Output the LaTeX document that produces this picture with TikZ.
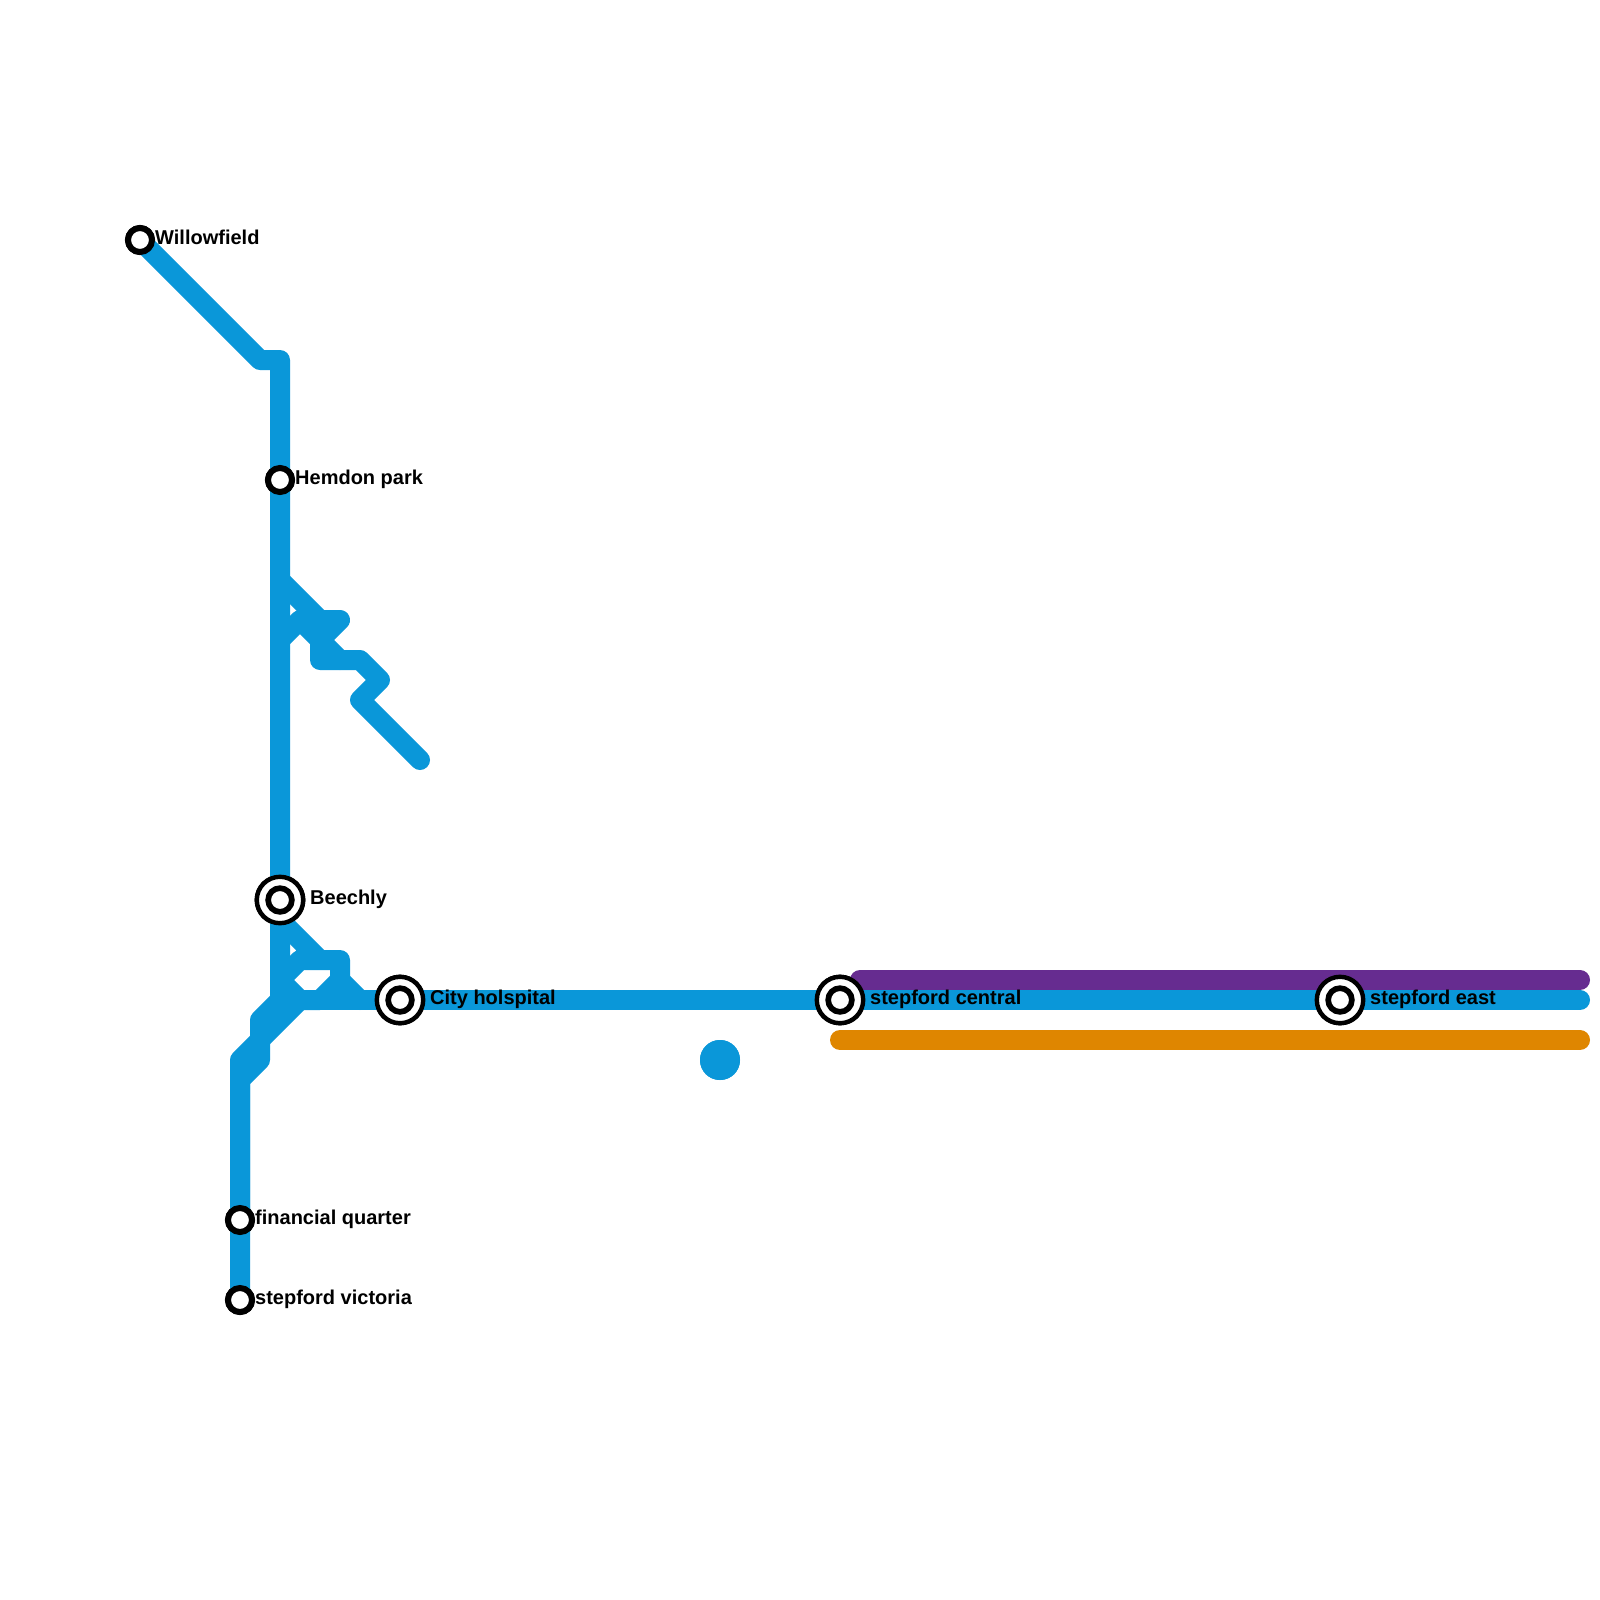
\documentclass[tikz,border=0pt]{standalone}
\usepackage{fontspec}
\setmainfont{Liberation Sans}
\tikzset{
  tube/.style={line width=20pt,line cap=round,line join=round,color=lineblue},
  smallstop/.style={circle,draw=black,fill=white,line width=6pt,minimum size=24pt,inner sep=0pt},
  bigstop/.style={circle,draw=black,fill=white,line width=4.4pt,minimum size=46.4pt,inner sep=0pt},
  innerstop/.style={circle,draw=black,fill=white,line width=5.7pt,minimum size=23.7pt,inner sep=0pt},
  lbl/.style={anchor=base west,inner sep=0pt,font=\fontsize{20pt}{24pt}\selectfont\bfseries,text=black}
}
\definecolor{lineblue}{HTML}{0A97D9}
\definecolor{linepurple}{HTML}{662C90}
\definecolor{lineorange}{HTML}{DF8600}
\begin{document}
\begin{tikzpicture}[x=1pt,y=-1pt]
\useasboundingbox[fill=white] (0,0) rectangle (1600,1600);
% junction coordinates
\coordinate (a1) at (260,360); \coordinate (a2) at (280,360);
\coordinate (b0) at (280,580); \coordinate (b1) at (320,620); \coordinate (b2) at (340,620);
\coordinate (b3) at (320,640); \coordinate (b4) at (320,660); \coordinate (b5) at (360,660);
\coordinate (b6) at (380,680); \coordinate (b7) at (360,700); \coordinate (b8) at (420,760);
\coordinate (b9) at (280,640); \coordinate (b10) at (300,620); \coordinate (b11) at (340,660);
\coordinate (c0) at (280,920); \coordinate (c1) at (320,960); \coordinate (c2) at (340,960);
\coordinate (c3) at (340,980); \coordinate (c4) at (360,1000); \coordinate (c5) at (300,960);
\coordinate (c6) at (280,980); \coordinate (c7) at (300,1000); \coordinate (c8) at (320,1000);
\coordinate (d0) at (280,1000); \coordinate (d1) at (260,1020); \coordinate (d2) at (260,1060);
\coordinate (d3) at (240,1080); \coordinate (d4) at (240,1060);
\coordinate (e1) at (1580,1000);
\coordinate (p0) at (860,980); \coordinate (p1) at (1580,980);
\coordinate (o0) at (840,1040); \coordinate (o1) at (1580,1040);
% stations
\path (140,240) node[smallstop] (will) {}
      (280,480) node[smallstop] (hem) {}
      (280,900) node[bigstop] (bee) {}
      (400,1000) node[bigstop] (city) {}
      (840,1000) node[bigstop] (cen) {}
      (1340,1000) node[bigstop] (east) {}
      (240,1220) node[smallstop] (fin) {}
      (240,1300) node[smallstop] (vic) {};
% lines
\draw[tube,linepurple] (p0) -- (p1);
\draw[tube,lineorange] (o0) -- (o1);
\draw[tube] (will.center) -- (a1) -- (a2) -- (hem.center) -- (bee.center) -- (d0) -- (d1) -- (d2) -- (d3) -- (vic.center);
\draw[tube] (b0) -- (b1) -- (b2) -- (b3) -- (b4) -- (b5) -- (b6) -- (b7) -- (b8);
\draw[tube] (b9) -- (b10) -- (b11);
\draw[tube] (c0) -- (c1) -- (c2) -- (c3) -- (c8) -- (c7) -- (c6) -- (c5) -- (c1);
\draw[tube] (c3) -- (c4);
\draw[tube] (c7) -- (d4) -- (fin.center);
\draw[tube] (c7) -- (city.center) -- (cen.center) -- (east.center) -- (e1);
\fill[lineblue] (720,1060) circle (20pt);
\node[circle,fill=lineblue,minimum size=40pt,inner sep=0pt] (dot) at (720,1060) {};
% station symbols on top
\foreach \n/\x/\y/\s in {will/140/240/smallstop,hem/280/480/smallstop,fin/240/1220/smallstop,vic/240/1300/smallstop,bee/280/900/bigstop,city/400/1000/bigstop,cen/840/1000/bigstop,east/1340/1000/bigstop}{
  \node[\s] at (\x,\y) {};
}
\node[innerstop] (beei) at (bee) {};
\node[innerstop] (cityi) at (city) {};
\node[innerstop] (ceni) at (cen) {};
\node[innerstop] (easti) at (east) {};
% labels
\node[lbl] (lwill) at (155,244) {Willowfield};
\node[lbl] (lhem) at (295,484) {Hemdon park};
\node[lbl] (lbee) at (310,904) {Beechly};
\node[lbl] (lcity) at (430,1004) {City holspital};
\node[lbl] (lcen) at (870,1004) {stepford central};
\node[lbl] (least) at (1370,1004) {stepford east};
\node[lbl] (lfin) at (255,1224) {financial quarter};
\node[lbl] (lvic) at (255,1304) {stepford victoria};
\end{tikzpicture}
\end{document}
